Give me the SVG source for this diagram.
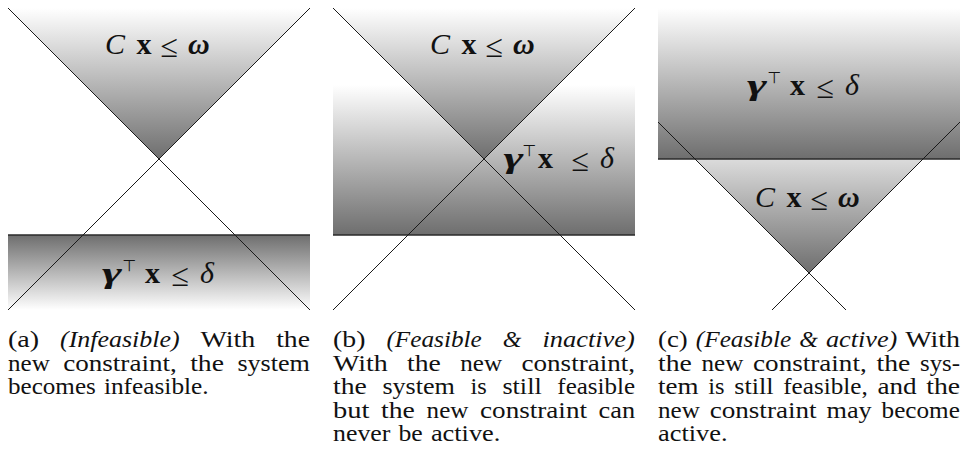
<svg xmlns="http://www.w3.org/2000/svg" width="969" height="470" viewBox="0 0 969 470">
<defs>
<linearGradient id="fadeDown" x1="0" y1="0" x2="0" y2="1"><stop offset="0" stop-color="#ffffff"/><stop offset="1" stop-color="#6e6e6e"/></linearGradient>
<linearGradient id="fadeUp" x1="0" y1="0" x2="0" y2="1"><stop offset="0" stop-color="#6e6e6e"/><stop offset="1" stop-color="#ffffff"/></linearGradient>
</defs>
<style>
.ln{stroke:#1a1a1a;stroke-width:1;fill:none}
.edge{stroke:#2a2a2a;stroke-width:1.4;fill:none}
.m{font-family:"Liberation Serif","Times New Roman",serif;font-size:30px;fill:#111}
.it{font-style:italic}
.bf{font-weight:bold}
.bi{font-weight:bold;font-style:italic}
.le{font-size:32px}
.top{font-family:"DejaVu Sans",sans-serif;font-size:16px}
.cap{font-family:"Liberation Serif","Times New Roman",serif;font-size:22.5px;fill:#111}
</style>
<rect width="969" height="470" fill="#ffffff"/>

<g id="panel-a">
<rect x="8" y="235" width="302" height="75" fill="url(#fadeUp)"/>
<polygon points="8,8 310,8 159,159" fill="url(#fadeDown)"/>
<line class="edge" x1="8" y1="235" x2="310" y2="235"/>
<text class="m" y="54"><tspan class="it" x="105">C</tspan> <tspan class="bf" x="136.5">x</tspan> <tspan class="le" x="160.5" dy="3">≤</tspan> <tspan class="bi" x="188" dy="-3">ω</tspan></text>
<text class="m" y="283"><tspan class="bi" x="102" textLength="20" lengthAdjust="spacingAndGlyphs">γ</tspan><tspan class="top" x="122.5" dy="-12">⊤</tspan> <tspan class="bf" x="145" dy="12">x</tspan> <tspan class="le" x="171.5" dy="3">≤</tspan> <tspan class="it" x="200" dy="-3">δ</tspan></text>
</g>

<g id="panel-b">
<rect x="333" y="85" width="302" height="150" fill="url(#fadeDown)"/>
<polygon points="333,8 635,8 484,159" fill="url(#fadeDown)"/>
<line class="edge" x1="333" y1="235" x2="635" y2="235"/>
<text class="m" y="54"><tspan class="it" x="430">C</tspan> <tspan class="bf" x="461.5">x</tspan> <tspan class="le" x="485.5" dy="3">≤</tspan> <tspan class="bi" x="513" dy="-3">ω</tspan></text>
<text class="m" y="168"><tspan class="bi" x="503.5" textLength="20" lengthAdjust="spacingAndGlyphs">γ</tspan><tspan class="top" x="522.5" dy="-12">⊤</tspan><tspan class="bf" x="538" dy="12">x</tspan> <tspan class="le" x="571.5" dy="3">≤</tspan> <tspan class="it" x="600" dy="-3">δ</tspan></text>
</g>

<g id="panel-c">
<polygon points="658,122 960,122 809,273" fill="url(#fadeDown)"/>
<rect x="658" y="8" width="302" height="151" fill="url(#fadeDown)"/>
<line class="edge" x1="658" y1="159" x2="960" y2="159"/>
<text class="m" y="95"><tspan class="bi" x="747" textLength="20" lengthAdjust="spacingAndGlyphs">γ</tspan><tspan class="top" x="767.5" dy="-12">⊤</tspan> <tspan class="bf" x="790" dy="12">x</tspan> <tspan class="le" x="816.5" dy="3">≤</tspan> <tspan class="it" x="845" dy="-3">δ</tspan></text>
<text class="m" y="207"><tspan class="it" x="755">C</tspan> <tspan class="bf" x="786.5">x</tspan> <tspan class="le" x="810.5" dy="3">≤</tspan> <tspan class="bi" x="838" dy="-3">ω</tspan></text>
</g>

<g id="connectors">
<line class="ln" x1="8" y1="8" x2="310" y2="310"/>
<line class="ln" x1="310" y1="8" x2="8" y2="310"/>
<line class="ln" x1="333" y1="8" x2="635" y2="310"/>
<line class="ln" x1="635" y1="8" x2="333" y2="310"/>
<line class="ln" x1="658" y1="122" x2="846" y2="310"/>
<line class="ln" x1="960" y1="122" x2="772" y2="310"/>
</g>

<g id="caption-a" class="cap">
<text y="347"><tspan x="8" textLength="31.1" lengthAdjust="spacingAndGlyphs">(a)</tspan> <tspan class="it" x="60" textLength="119.7" lengthAdjust="spacingAndGlyphs">(Infeasible)</tspan> <tspan x="200.6" textLength="54.7" lengthAdjust="spacingAndGlyphs">With</tspan> <tspan x="276.2" textLength="33.8" lengthAdjust="spacingAndGlyphs">the</tspan></text>
<text y="370.5"><tspan x="8" textLength="41.8" lengthAdjust="spacingAndGlyphs">new</tspan> <tspan x="63.2" textLength="113.6" lengthAdjust="spacingAndGlyphs">constraint,</tspan> <tspan x="190.2" textLength="33.8" lengthAdjust="spacingAndGlyphs">the</tspan> <tspan x="237.4" textLength="72.5" lengthAdjust="spacingAndGlyphs">system</tspan></text>
<text y="394"><tspan x="8" textLength="87.8" lengthAdjust="spacingAndGlyphs">becomes</tspan> <tspan x="103.9" textLength="104.8" lengthAdjust="spacingAndGlyphs">infeasible.</tspan></text>
</g>

<g id="caption-b" class="cap">
<text y="347"><tspan x="333" textLength="32.4" lengthAdjust="spacingAndGlyphs">(b)</tspan> <tspan class="it" x="386.4" textLength="95.4" lengthAdjust="spacingAndGlyphs">(Feasible</tspan> <tspan class="it" x="502.8" textLength="18.6" lengthAdjust="spacingAndGlyphs">&amp;</tspan> <tspan class="it" x="542.4" textLength="92.5" lengthAdjust="spacingAndGlyphs">inactive)</tspan></text>
<text y="370.5"><tspan x="333" textLength="54.7" lengthAdjust="spacingAndGlyphs">With</tspan> <tspan x="407.1" textLength="33.8" lengthAdjust="spacingAndGlyphs">the</tspan> <tspan x="460.3" textLength="41.8" lengthAdjust="spacingAndGlyphs">new</tspan> <tspan x="521.5" textLength="113.6" lengthAdjust="spacingAndGlyphs">constraint,</tspan></text>
<text y="394"><tspan x="333" textLength="33.8" lengthAdjust="spacingAndGlyphs">the</tspan> <tspan x="382.4" textLength="72.5" lengthAdjust="spacingAndGlyphs">system</tspan> <tspan x="470.5" textLength="16.3" lengthAdjust="spacingAndGlyphs">is</tspan> <tspan x="502.4" textLength="39.3" lengthAdjust="spacingAndGlyphs">still</tspan> <tspan x="557.3" textLength="77.8" lengthAdjust="spacingAndGlyphs">feasible</tspan></text>
<text y="417.5"><tspan x="333" textLength="36.5" lengthAdjust="spacingAndGlyphs">but</tspan> <tspan x="381.1" textLength="33.8" lengthAdjust="spacingAndGlyphs">the</tspan> <tspan x="426.6" textLength="41.8" lengthAdjust="spacingAndGlyphs">new</tspan> <tspan x="480.1" textLength="106.9" lengthAdjust="spacingAndGlyphs">constraint</tspan> <tspan x="598.6" textLength="36.5" lengthAdjust="spacingAndGlyphs">can</tspan></text>
<text y="441"><tspan x="333" textLength="57.4" lengthAdjust="spacingAndGlyphs">never</tspan> <tspan x="398.5" textLength="24.3" lengthAdjust="spacingAndGlyphs">be</tspan> <tspan x="430.9" textLength="69.5" lengthAdjust="spacingAndGlyphs">active.</tspan></text>
</g>

<g id="caption-c" class="cap">
<text y="347"><tspan x="658" textLength="29.7" lengthAdjust="spacingAndGlyphs">(c)</tspan> <tspan class="it" x="695.8" textLength="95.4" lengthAdjust="spacingAndGlyphs">(Feasible</tspan> <tspan class="it" x="799.2" textLength="18.6" lengthAdjust="spacingAndGlyphs">&amp;</tspan> <tspan class="it" x="825.9" textLength="71.4" lengthAdjust="spacingAndGlyphs">active)</tspan> <tspan x="905.3" textLength="54.7" lengthAdjust="spacingAndGlyphs">With</tspan></text>
<text y="370.5"><tspan x="658" textLength="33.8" lengthAdjust="spacingAndGlyphs">the</tspan> <tspan x="701.5" textLength="41.8" lengthAdjust="spacingAndGlyphs">new</tspan> <tspan x="753.1" textLength="113.6" lengthAdjust="spacingAndGlyphs">constraint,</tspan> <tspan x="876.5" textLength="33.8" lengthAdjust="spacingAndGlyphs">the</tspan> <tspan x="920" textLength="40.1" lengthAdjust="spacingAndGlyphs">sys-</tspan></text>
<text y="394"><tspan x="658" textLength="40.5" lengthAdjust="spacingAndGlyphs">tem</tspan> <tspan x="708.2" textLength="16.3" lengthAdjust="spacingAndGlyphs">is</tspan> <tspan x="734.2" textLength="39.3" lengthAdjust="spacingAndGlyphs">still</tspan> <tspan x="783.2" textLength="84.5" lengthAdjust="spacingAndGlyphs">feasible,</tspan> <tspan x="877.4" textLength="39.2" lengthAdjust="spacingAndGlyphs">and</tspan> <tspan x="926.3" textLength="33.8" lengthAdjust="spacingAndGlyphs">the</tspan></text>
<text y="417.5"><tspan x="658" textLength="41.8" lengthAdjust="spacingAndGlyphs">new</tspan> <tspan x="709.7" textLength="106.9" lengthAdjust="spacingAndGlyphs">constraint</tspan> <tspan x="826.5" textLength="45.2" lengthAdjust="spacingAndGlyphs">may</tspan> <tspan x="881.6" textLength="78.3" lengthAdjust="spacingAndGlyphs">become</tspan></text>
<text y="441"><tspan x="658" textLength="69.5" lengthAdjust="spacingAndGlyphs">active.</tspan></text>
</g>
</svg>
